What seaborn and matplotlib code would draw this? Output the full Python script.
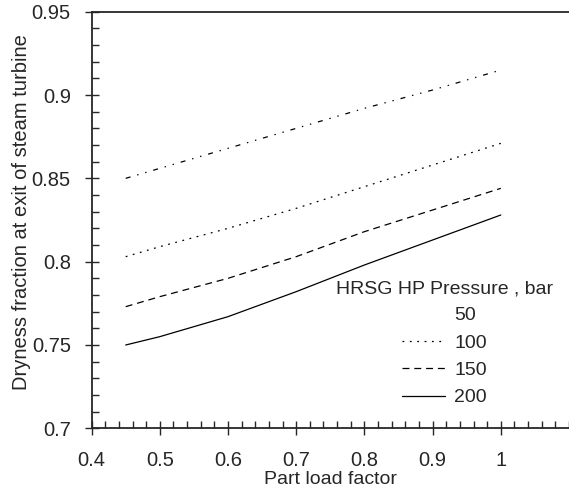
# dryness fraction vs part load, HRSG HP pressure levels
import matplotlib
matplotlib.use('Agg')
import matplotlib.pyplot as plt
from matplotlib.lines import Line2D
from matplotlib.ticker import MultipleLocator
import numpy as np
import pandas as pd
import seaborn as sns

load = [0.45, 0.5, 0.6, 0.7, 0.8, 0.9, 1.0]
dry_50 = [0.850, 0.856, 0.868, 0.880, 0.892, 0.903, 0.915]
dry_100 = [0.803, 0.809, 0.820, 0.832, 0.845, 0.858, 0.871]
dry_150 = [0.773, 0.779, 0.790, 0.803, 0.818, 0.831, 0.844]
dry_200 = [0.750, 0.755, 0.767, 0.782, 0.798, 0.813, 0.828]
pressures = ['50', '100', '150', '200']
x_ticks = [0.4, 0.5, 0.6, 0.7, 0.8, 0.9, 1.0]
x_labels = ['0.4', '0.5', '0.6', '0.7', '0.8', '0.9', '1']
y_ticks = [0.7, 0.75, 0.8, 0.85, 0.9, 0.95]
y_labels = ['0.7', '0.75', '0.8', '0.85', '0.9', '0.95']

df = pd.concat([
    pd.DataFrame({'load': load, 'dryness': d, 'pressure': p})
    for p, d in zip(pressures, [dry_50, dry_100, dry_150, dry_200])
])

sns.set_style('ticks')
plt.rcParams['font.family'] = ['Liberation Sans', 'DejaVu Sans']
plt.rcParams['lines.scale_dashes'] = False

dash_map = {'50': (3.6, 5, 1, 5, 1, 5),
            '100': (1.3, 4),
            '150': (5, 3.5),
            '200': ''}

fig = plt.figure(figsize=(5.69, 4.87), dpi=100)
ax = fig.add_axes([0.161, 0.1205, 0.839, 0.8555])

sns.lineplot(data=df, x='load', y='dryness', style='pressure', dashes=dash_map,
             color='black', linewidth=0.9, legend=False, ax=ax)

ax.set_xlim(0.4, 1.1)
ax.set_ylim(0.7, 0.95)
ax.set_xticks(x_ticks, x_labels)
ax.set_yticks(y_ticks, y_labels)
ax.xaxis.set_minor_locator(MultipleLocator(0.02))
ax.yaxis.set_minor_locator(MultipleLocator(0.01))

ax.tick_params(which='major', direction='inout', length=10, width=1, labelsize=14.5, pad=10)
ax.tick_params(which='minor', direction='in', length=5, width=1)
ax.tick_params(axis='x', which='major', pad=11)

for s in ['left', 'bottom', 'top']:
    ax.spines[s].set_linewidth(1.3)
ax.spines['right'].set_visible(False)

ax.set_xlabel('Part load factor', fontsize=14, labelpad=1)
ax.set_ylabel('Dryness fraction at exit of steam turbine', fontsize=14.5, labelpad=7)
ax.yaxis.set_label_coords(-0.128, 0.52)

handles = [Line2D([], [], color='none'),
           Line2D([], [], color='black', lw=0.9, linestyle=(0, (1.3, 4))),
           Line2D([], [], color='black', lw=0.9, linestyle=(0, (5, 3.5))),
           Line2D([], [], color='black', lw=0.9)]
fig.legend(handles, pressures, title='HRSG HP Pressure , bar', loc='upper center',
           bbox_to_anchor=(0.781, 0.445), frameon=False, fontsize=14, title_fontsize=14,
           handlelength=2.2, handletextpad=0.5, labelspacing=0.5, borderpad=0)

fig.savefig('out.png', dpi=100)
